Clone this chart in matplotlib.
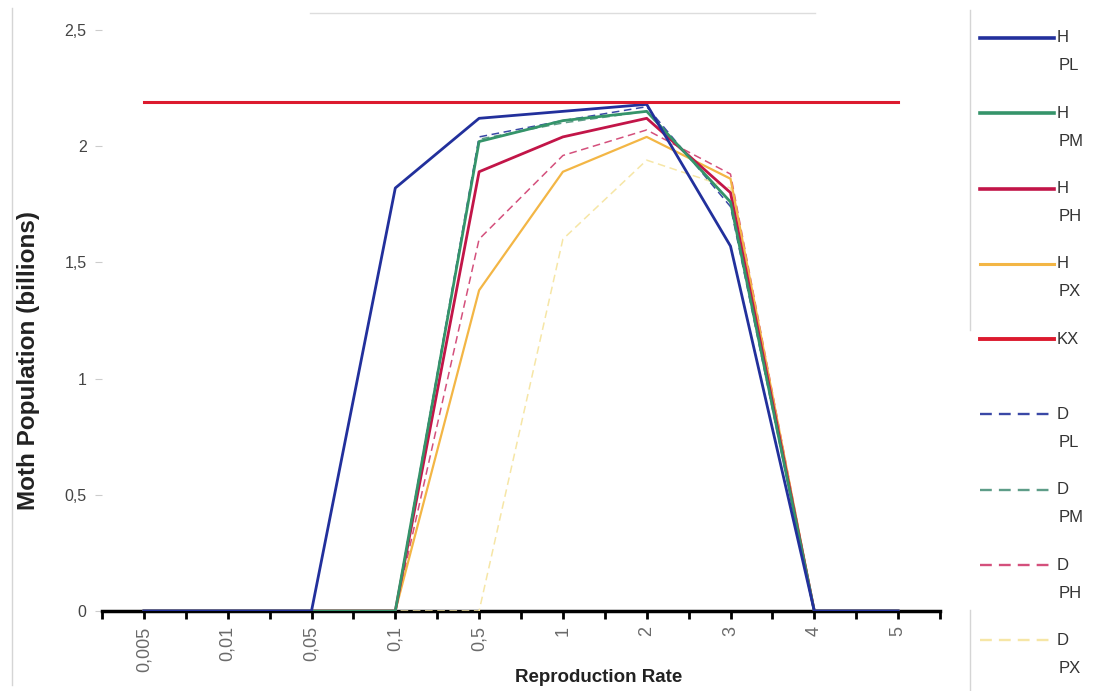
import matplotlib
matplotlib.use("Agg")
import matplotlib.pyplot as plt
from matplotlib.lines import Line2D
import numpy as np

categories = ["0,005", "0,01", "0,05", "0,1", "0,5", "1", "2", "3", "4", "5"]

H_PL = [0, 0, 0, 1.82, 2.12, 2.15, 2.18, 1.57, 0, 0]
H_PM = [0, 0, 0, 0, 2.02, 2.11, 2.15, 1.76, 0, 0]
H_PH = [0, 0, 0, 0, 1.89, 2.04, 2.12, 1.80, 0, 0]
H_PX = [0, 0, 0, 0, 1.38, 1.89, 2.04, 1.86, 0, 0]
KX   = [2.19, 2.19, 2.19, 2.19, 2.19, 2.19, 2.19, 2.19, 2.19, 2.19]
D_PL = [0, 0, 0, 0, 2.04, 2.11, 2.17, 1.74, 0, 0]
D_PM = [0, 0, 0, 0, 2.03, 2.10, 2.15, 1.76, 0, 0]
D_PH = [0, 0, 0, 0, 1.60, 1.96, 2.07, 1.88, 0, 0]
D_PX = [0, 0, 0, 0, 0, 1.60, 1.94, 1.82, 0, 0]

series = [
    ("H\nPL", H_PL, "#22309c", "-", 2.0),
    ("H\nPM", H_PM, "#35946a", "-", 2.0),
    ("H\nPH", H_PH, "#c21548", "-", 2.0),
    ("H\nPX", H_PX, "#f3b645", "-", 1.6),
    ("KX", KX, "#dc1a2e", "-", 2.2),
    ("D\nPL", D_PL, "#3a48a6", (0, (5, 3)), 1.1),
    ("D\nPM", D_PM, "#5e9d88", (0, (5, 3)), 1.1),
    ("D\nPH", D_PH, "#d4507c", (0, (5, 3)), 1.1),
    ("D\nPX", D_PX, "#f6e6a6", (0, (5, 3)), 1.1),
]

plt.rcParams['font.family'] = ['Liberation Sans', 'DejaVu Sans']

fig = plt.figure(figsize=(10.96, 6.91), dpi=100)
W, H = 1096, 691
ax = fig.add_axes([102 / W, 1 - 611 / H, (940 - 102) / W, (611 - 30) / H])

x = np.arange(len(categories))
draw_order = [8, 7, 6, 5, 3, 2, 1, 0, 4]
for i in draw_order:
    lab, vals, col, ls, lw = series[i]
    ax.plot(x, vals, color=col, linestyle=ls, linewidth=lw, zorder=3 + (i == 4))

ax.set_xlim(-0.5, len(categories) - 0.5)
ax.set_ylim(0, 2.5)
ax.set_yticks([0, 0.5, 1, 1.5, 2, 2.5])
ax.set_yticklabels(["0", "0,5", "1", "1,5", "2", "2,5"], fontsize=11.5, color="#444444")
ax.set_xticks(x)
ax.set_xticklabels(categories, rotation=90, fontsize=13, color="#6a6a6a")
ax.set_xticks(np.arange(-0.5, len(categories), 1.0), minor=True)
ax.tick_params(axis='x', which='both', direction='out', length=6, width=2, color='black', pad=5)
ax.tick_params(axis='y', which='both', direction='out', length=5, width=0.8, color='#cccccc', pad=6)

for s in ["top", "right", "left"]:
    ax.spines[s].set_visible(False)
ax.spines["bottom"].set_linewidth(2.5)
ax.spines["bottom"].set_color("black")
ax.spines["bottom"].set_zorder(2)

ax.set_xlabel("Reproduction Rate", fontsize=13.5, fontweight="bold", color="#222222")
ax.xaxis.set_label_coords((599 - 102) / 838, (611 - 669) / 581)
ax.set_ylabel("Moth Population (billions)", fontsize=17.5, fontweight="bold", color="#222222")
ax.yaxis.set_label_coords((40 - 102) / 838, (611 - 361) / 581)

# legend (manual, matching the two-line label layout)
for k, (lab, vals, col, ls, lw) in enumerate(series):
    yy = 38 + 75.3 * k
    fig.add_artist(Line2D([980 / W, 1054 / W], [1 - yy / H, 1 - yy / H], color=col,
                          linestyle=ls, linewidth=lw + 0.6))
    parts = lab.split("\n")
    fig.text(1057 / W, 1 - yy / H, parts[0], fontsize=12, color="#333333", va="center", ha="left")
    if len(parts) > 1:
        fig.text(1059 / W, 1 - (yy + 28) / H, parts[1], fontsize=12, color="#333333", va="center", ha="left")

# faint frame lines
fig.add_artist(Line2D([12 / W, 12 / W], [1 - 8 / H, 1 - 685 / H], color="#d5d5d5", linewidth=1))
fig.add_artist(Line2D([970 / W, 970 / W], [1 - 10 / H, 1 - 330 / H], color="#d5d5d5", linewidth=1))
fig.add_artist(Line2D([970 / W, 970 / W], [1 - 610 / H, 1 - 690 / H], color="#d5d5d5", linewidth=1))
fig.add_artist(Line2D([310 / W, 815 / W], [1 - 13 / H, 1 - 13 / H], color="#dddddd", linewidth=1))

fig.savefig("out.png", dpi=100)
